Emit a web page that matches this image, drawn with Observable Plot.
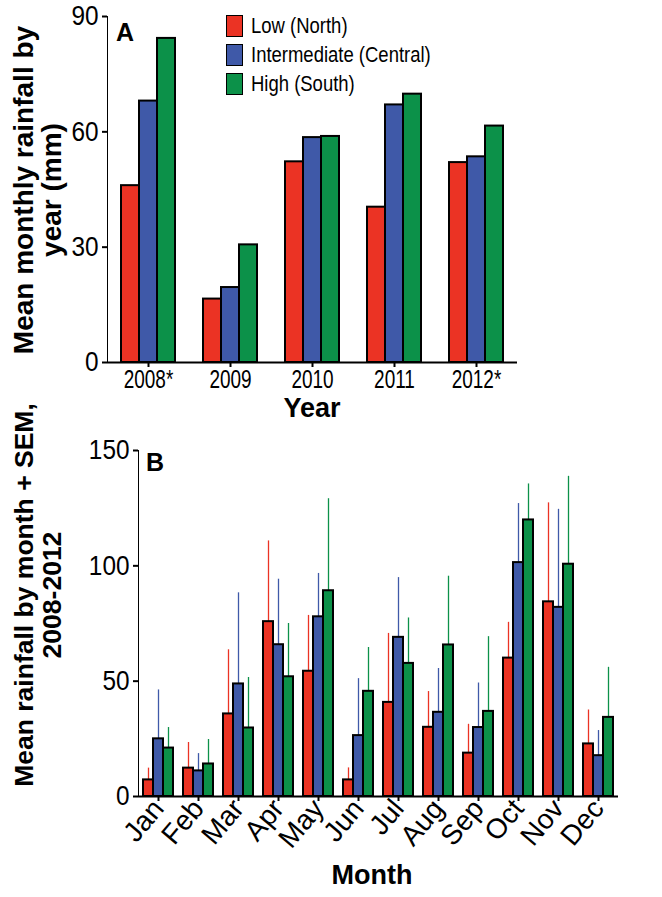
<!DOCTYPE html>
<html><head><meta charset="utf-8">
<script src="https://cdn.jsdelivr.net/npm/d3@7"></script>
<script src="https://cdn.jsdelivr.net/npm/@observablehq/plot@0.6"></script>
<style>
body{margin:0;background:#fff;}
#wrap{position:relative;width:662px;height:897px;font-family:"Liberation Sans",Arial,sans-serif;color:#000;overflow:hidden}
#a,#b{position:absolute;left:0}
#a{top:0}
#b{top:420px}
.ytitle{position:absolute;width:460px;text-align:center;font-weight:bold;line-height:28px;transform:rotate(-90deg);transform-origin:50% 50%;white-space:nowrap}
.xtitle{position:absolute;font-weight:bold;font-size:27px;transform:translate(-50%,0);white-space:nowrap}
.plabel{position:absolute;font-weight:bold;font-size:25px}
#legend{position:absolute;left:226px;top:11px;font-size:22px}
#legend .row{display:flex;align-items:center;height:29px}
#legend .sw{width:15px;height:20px;border:1.5px solid #000;margin-right:8px;flex:none}
#legend .tx{display:inline-block;transform:scaleX(0.84);transform-origin:0 50%;white-space:nowrap}
</style>
</head><body>
<div id="wrap">
  <div id="a"></div>
  <div id="b"></div>
</div>
<script>
// ---- data ----
const series = ["Low (North)", "Intermediate (Central)", "High (South)"];
const colors = ["#eb3324", "#3f59a8", "#0c9149"];

const years = ["2008*", "2009", "2010", "2011", "2012*"];
const lowYear = [46, 16.5, 52.2, 40.4, 52];
const midYear = [68, 19.5, 58.5, 67, 53.5];
const highYear = [84.3, 30.6, 58.8, 69.8, 61.5];

const months = ["Jan","Feb","Mar","Apr","May","Jun","Jul","Aug","Sep","Oct","Nov","Dec"];
const lowMonth = [7.2, 12.3, 35.8, 75.8, 54.3, 7.2, 40.8, 30, 18.8, 60, 84.4, 22.8];
const midMonth = [25, 11.1, 48.8, 65.8, 77.9, 26.4, 69, 36.5, 29.9, 101.4, 82, 17.7];
const highMonth = [21, 14.1, 29.7, 51.9, 89.2, 45.6, 57.7, 65.7, 36.9, 119.9, 100.7, 34.3];
const lowSem = [5.1, 11.1, 27.8, 35, 24.2, 5.2, 29.9, 15.5, 12.5, 15.5, 42.9, 14.7];
const midSem = [21.2, 7.5, 39.5, 28.4, 18.8, 24.7, 25.9, 19, 19.3, 25.6, 42.5, 10.9];
const highSem = [8.9, 10.6, 21.9, 23.1, 39.9, 19, 19.7, 29.8, 32.4, 15.6, 38.1, 21.7];

const yTicksA = [0, 30, 60, 90];
const yTicksB = [0, 50, 100, 150];

// ---- build tables ----
const yearVals = [lowYear, midYear, highYear];
const dataA = years.flatMap((yr, i) => series.map((s, j) => ({year: yr, series: s, value: yearVals[j][i]})));
const monthVals = [lowMonth, midMonth, highMonth];
const monthSems = [lowSem, midSem, highSem];
const dataB = months.flatMap((m, i) => series.map((s, j) => ({month: m, series: s, value: monthVals[j][i], sem: monthSems[j][i]})));

const font = "'Liberation Sans', Arial, sans-serif";

const chartA = Plot.plot({
  width: 662, height: 420,
  marginLeft: 107, marginRight: 145, marginTop: 16, marginBottom: 58,
  style: {fontFamily: font, fontSize: "28px", color: "#000", background: "white", overflow: "visible"},
  fx: {domain: years, padding: 0, axis: "bottom", label: null, tickSize: 5, tickPadding: 3},
  x: {domain: series, paddingInner: 0, paddingOuter: 0.7, axis: null},
  y: {domain: [0, 90], ticks: yTicksA, tickSize: 5, tickPadding: 4, line: true, label: null},
  color: {domain: series, range: colors},
  marks: [
    Plot.barY(dataA, {fx: "year", x: "series", y: "value", fill: "series", stroke: "black", strokeWidth: 2}),
    Plot.ruleY([0], {strokeWidth: 2})
  ]
});
document.getElementById("a").appendChild(chartA);

const chartB = Plot.plot({
  width: 662, height: 477,
  marginLeft: 134, marginRight: 40, marginTop: 30, marginBottom: 101,
  style: {fontFamily: font, fontSize: "28px", color: "#000", background: "white", overflow: "visible"},
  fx: {domain: months, padding: 0, axis: "bottom", label: null, tickSize: 5, tickPadding: 2, tickRotate: -50},
  x: {domain: series, paddingInner: 0, paddingOuter: 0.47, axis: null},
  y: {domain: [0, 150], ticks: yTicksB, tickSize: 5, tickPadding: 4, line: true, label: null},
  color: {domain: series, range: colors},
  marks: [
    Plot.ruleX(dataB, {fx: "month", x: "series", y1: "value", y2: d => d.value + d.sem, stroke: "series", strokeWidth: 1.3}),
    Plot.barY(dataB, {fx: "month", x: "series", y: "value", fill: "series", stroke: "black", strokeWidth: 2}),
    Plot.ruleY([0], {strokeWidth: 2})
  ]
});
document.getElementById("b").appendChild(chartB);

// axis style tweaks: condensed-looking tick labels
function squeeze(svg, selector, s) {
  d3.select(svg).selectAll(selector).each(function() {
    const t = d3.select(this);
    const x = parseFloat(t.attr("x")) || 0, y = parseFloat(t.attr("y")) || 0;
    const tr = t.attr("transform") || "";
    t.attr("transform", `${tr} translate(${x},${y}) scale(${s},1) translate(${-x},${-y})`);
  });
}
d3.select(chartA).selectAll('[aria-label^="fx-axis"] text').style("font-size", "25px");
d3.select(chartB).selectAll('[aria-label^="fx-axis"] text').style("font-size", "28px");
squeeze(chartA, '[aria-label^="fx-axis"] text', 0.76);
squeeze(chartA, '[aria-label^="y-axis"] text', 0.87);
squeeze(chartB, '[aria-label^="y-axis"] text', 0.87);
d3.selectAll('svg [aria-label^="y-axis"] path, svg [aria-label^="y-axis"] line').attr("stroke-width", 2);
d3.selectAll('svg [aria-label^="fx-axis"] path, svg [aria-label^="fx-axis"] line').attr("stroke-width", 2);

// titles, labels, legend
const wrap = document.getElementById("wrap");
function add(cls, html, styles) {
  const d = document.createElement("div");
  d.className = cls; d.innerHTML = html;
  Object.assign(d.style, styles);
  wrap.appendChild(d);
  return d;
}
add("ytitle", "Mean monthly rainfall by<br>year (mm)", {left: (38 - 230) + "px", top: (190 - 28) + "px", fontSize: "28px"});
add("ytitle", "Mean rainfall by month + SEM,<br>2008-2012", {left: (38 - 230) + "px", top: (595 - 28) + "px", fontSize: "26.5px"});
add("xtitle", "Year", {left: "312px", top: "393px"});
add("xtitle", "Month", {left: "372px", top: "860px"});
add("plabel", "A", {left: "116px", top: "18px"});
add("plabel", "B", {left: "146px", top: "448px"});

const legend = add("", "", {}); legend.id = "legend";
series.forEach((s, i) => {
  const r = document.createElement("div"); r.className = "row";
  r.innerHTML = `<span class="sw" style="background:${colors[i]}"></span><span class="tx">${s}</span>`;
  legend.appendChild(r);
});
</script>
</body></html>
